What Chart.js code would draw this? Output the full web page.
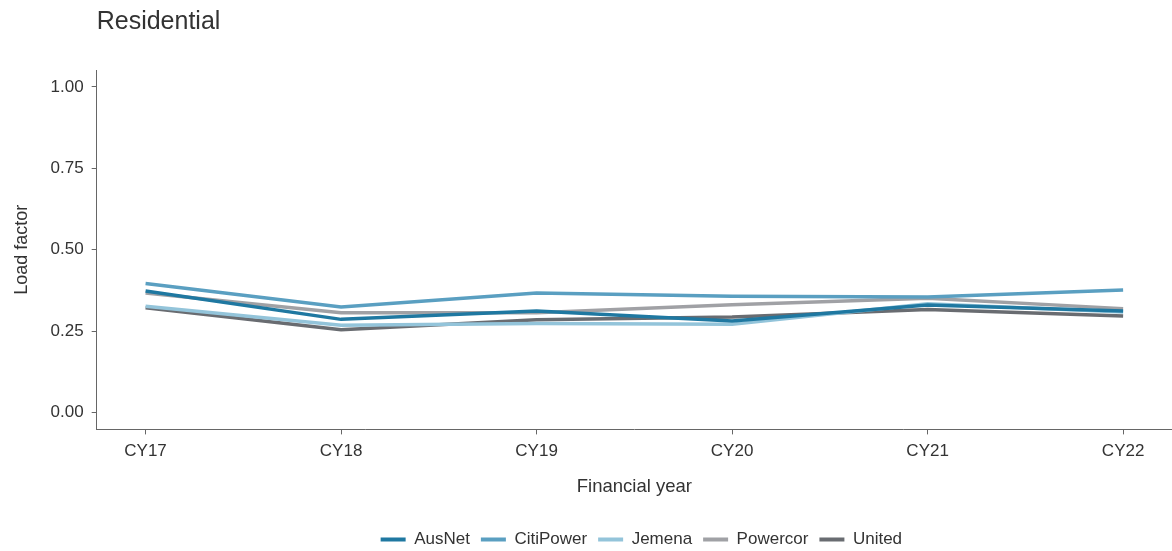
<!DOCTYPE html>
<html>
<head>
<meta charset="utf-8">
<script src="https://cdn.jsdelivr.net/npm/chart.js@4/dist/chart.umd.min.js"></script>
<style>
  html, body { margin: 0; padding: 0; background: #fff; }
  #wrap { width: 1172px; height: 551px; position: relative; }
</style>
</head>
<body>
<div id="wrap"><canvas id="c"></canvas></div>
<script>
const chartTitle = "Residential";
const categories = ["CY17", "CY18", "CY19", "CY20", "CY21", "CY22"];
const yTicks = [0, 0.25, 0.5, 0.75, 1.0];
const seriesNames = ["AusNet", "CitiPower", "Jemena", "Powercor", "United"];
const ausnet    = [0.373, 0.286, 0.312, 0.281, 0.330, 0.312];
const citipower = [0.396, 0.324, 0.367, 0.357, 0.355, 0.376];
const jemena    = [0.326, 0.268, 0.273, 0.271, 0.334, 0.309];
const powercor  = [0.367, 0.306, 0.306, 0.331, 0.351, 0.319];
const united    = [0.322, 0.254, 0.285, 0.293, 0.316, 0.296];
const seriesValues = [ausnet, citipower, jemena, powercor, united];
const colors = ["#1f78a1", "#5a9fc1", "#93c4da", "#a0a1a5", "#696c71"];

const FONT = "'Liberation Sans', Arial, sans-serif";
const TEXT = "#333333";

const datasets = seriesNames.map((name, i) => ({
  label: name,
  data: seriesValues[i].map((v, j) => ({ x: j, y: v })),
  borderColor: colors[i],
  backgroundColor: colors[i],
  borderWidth: 3.5,
  pointRadius: 0,
  pointHoverRadius: 0,
  tension: 0,
  fill: false
}));

const titlePlugin = {
  id: 'leftTitle',
  afterLayout(chart) {
    // centre the legend under the plot area rather than the whole canvas
    const lg = chart.legend;
    if (lg) {
      const shift = (chart.chartArea.left + chart.chartArea.right) / 2 - (lg.left + lg.right) / 2 + 7;
      lg.left += shift;
      lg.right += shift;
    }
  },
  afterDraw(chart) {
    const ctx = chart.ctx;
    ctx.save();
    ctx.font = "25px " + FONT;
    ctx.fillStyle = TEXT;
    ctx.textBaseline = 'middle';
    ctx.textAlign = 'left';
    ctx.fillText(chartTitle, chart.chartArea.left, 22);
    ctx.restore();
  }
};

new Chart(document.getElementById('c'), {
  type: 'line',
  data: { datasets },
  plugins: [titlePlugin],
  options: {
    responsive: true,
    maintainAspectRatio: false,
    animation: false,
    layout: { padding: { top: 70, left: 6, right: 0, bottom: -7 } },
    plugins: {
      title: { display: false },
      tooltip: { enabled: false },
      legend: {
        position: 'bottom',
        labels: {
          boxWidth: 25,
          boxHeight: 4,
          padding: 11,
          color: TEXT,
          font: { family: FONT, size: 17 },
          generateLabels(chart) {
            return chart.data.datasets.map((ds, i) => ({
              text: ds.label,
              fillStyle: ds.borderColor,
              strokeStyle: ds.borderColor,
              lineWidth: 0,
              hidden: false,
              datasetIndex: i,
              fontColor: TEXT
            }));
          }
        }
      }
    },
    scales: {
      x: {
        type: 'linear',
        min: -0.25,
        max: 5.25,
        afterBuildTicks(scale) {
          scale.ticks = categories.map((c, i) => ({ value: i }));
        },
        ticks: {
          callback: (v) => categories[v] ?? '',
          color: TEXT,
          font: { family: FONT, size: 17 },
          padding: 7,
          maxRotation: 0
        },
        grid: { drawOnChartArea: false, drawTicks: true, tickLength: 5, color: '#666' },
        border: { display: true, color: '#666', width: 1 },
        title: {
          display: true,
          text: 'Financial year',
          color: TEXT,
          font: { family: FONT, size: 18.5 },
          padding: { top: 7, bottom: 22 }
        }
      },
      y: {
        type: 'linear',
        min: -0.052,
        max: 1.052,
        afterBuildTicks(scale) {
          scale.ticks = yTicks.map(v => ({ value: v }));
        },
        ticks: {
          callback: (v) => Number(v).toFixed(2),
          color: TEXT,
          font: { family: FONT, size: 17 },
          padding: 8
        },
        grid: { drawOnChartArea: false, drawTicks: true, tickLength: 5, color: '#666' },
        border: { display: true, color: '#666', width: 1 },
        title: {
          display: true,
          text: 'Load factor',
          color: TEXT,
          font: { family: FONT, size: 18 },
          padding: { top: 5, bottom: 10 }
        }
      }
    }
  }
});
</script>
</body>
</html>
